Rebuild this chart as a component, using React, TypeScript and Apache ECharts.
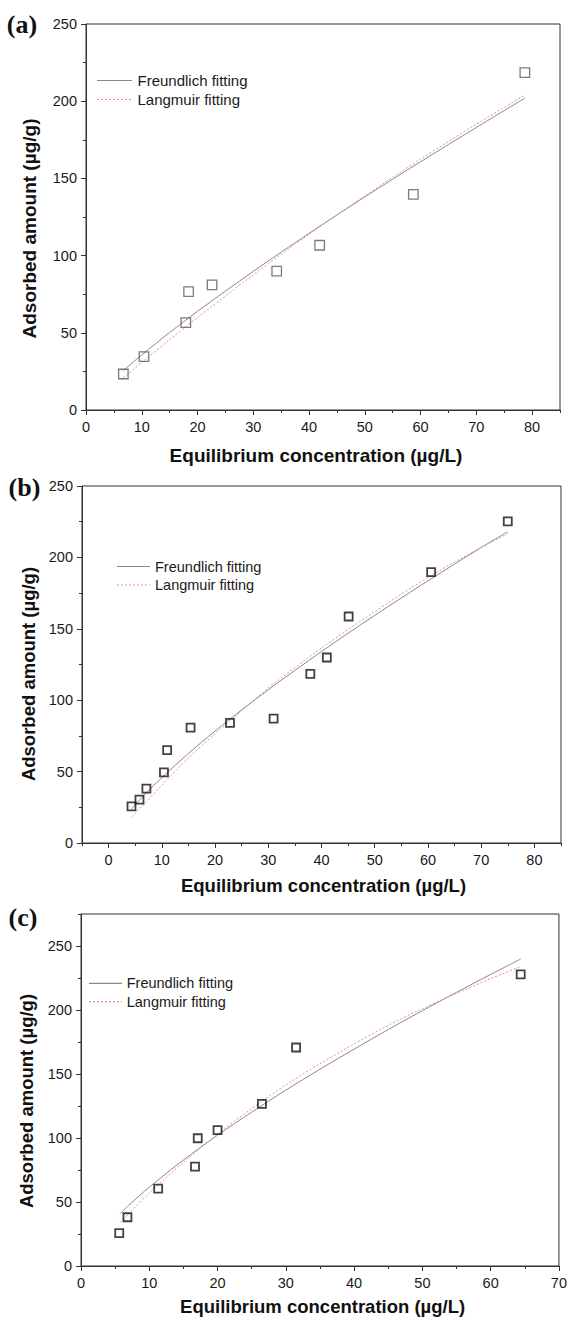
import React, { useEffect, useRef } from "react";
import * as echarts from "echarts";

// ---------- data ----------
// Panel (a)
const expA: number[][] = [
  [6.7, 23.3], [10.4, 34.6], [17.9, 56.6], [18.4, 76.7], [22.6, 81.0],
  [34.2, 89.9], [41.9, 106.7], [58.7, 139.6], [78.7, 218.5],
];
const freundA: number[][] = [
  [6.7, 25.5], [10, 35.7], [15, 50.2], [20, 63.9], [30, 89.8], [40, 114.4],
  [50, 138.0], [60, 160.8], [70, 183.0], [78.7, 202.0],
];
const langA: number[][] = [
  [6.7, 20.8], [10, 30.8], [15, 45.5], [20, 59.9], [30, 87.5], [40, 113.8],
  [50, 138.7], [60, 162.5], [70, 185.1], [78.7, 204.0],
];
// Panel (b)
const expB: number[][] = [
  [4.3, 25.7], [5.8, 30.4], [7.1, 38.1], [10.4, 49.5], [11.0, 65.0],
  [15.4, 80.8], [22.8, 84.1], [31.0, 87.1], [37.9, 118.5], [41.0, 129.9],
  [45.1, 158.6], [60.6, 189.7], [75.0, 225.2],
];
const freundB: number[][] = [
  [4.3, 23.8], [7, 34.8], [10, 45.8], [15, 62.7], [20, 78.4], [25, 93.2],
  [30, 107.3], [40, 134.1], [50, 159.4], [60, 183.6], [70, 206.9], [75, 218.0],
];
const langB: number[][] = [
  [4.3, 18.3], [7, 28.5], [10, 40.5], [15, 59.5], [20, 76.5], [25, 92.5],
  [30, 108.5], [40, 136.5], [50, 162.0], [60, 186.0], [70, 207.0], [75, 216.5],
];
// Panel (c)
const expC: number[][] = [
  [5.6, 25.7], [6.8, 38.1], [11.3, 60.4], [16.7, 77.7], [17.1, 99.8],
  [20.0, 106.1], [26.5, 126.6], [31.5, 170.7], [64.4, 227.9],
];
const freundC: number[][] = [
  [5.7, 40.7], [7, 47.5], [10, 61.6], [15, 82.8], [20, 102.2], [25, 120.2],
  [30, 137.4], [35, 153.7], [40, 169.4], [45, 184.7], [50, 199.5], [55, 213.8],
  [60, 227.8], [64.4, 239.8],
];
const langC: number[][] = [
  [5.7, 34.0], [7, 41.0], [10, 57.0], [15, 81.0], [20, 103.0], [25, 123.0],
  [30, 141.5], [35, 158.0], [40, 173.5], [45, 188.0], [50, 201.0], [55, 213.0],
  [60, 224.5], [64.4, 234.0],
];

// tick labels
const xTicksAB = [0, 10, 20, 30, 40, 50, 60, 70, 80];
const xTicksC = [0, 10, 20, 30, 40, 50, 60, 70];
const yTicks = [0, 50, 100, 150, 200, 250];

const panelLabels = ["(a)", "(b)", "(c)"];
const xTitle = "Equilibrium concentration (\u00b5g/L)";
const yTitle = "Adsorbed amount (\u00b5g/g)";
const legendNames = ["Freundlich fitting", "Langmuir fitting"];

// ---------- layout ----------
const panels = [
  {
    grid: { left: 86, top: 24, width: 474, height: 386 },
    xMin: 0, xMax: 85, yMax: 250, xTicks: xTicksAB,
    exp: expA, fr: freundA, la: langA,
    markColor: "#5a5a5a", markWidth: 1.3, markSize: 9.5,
    label: { x: 22, y: 24 },
    xTitle: { x: 316, y: 455, size: 19 },
    yTitle: { x: 29.5, y: 228.5, size: 19 },
    legend: { x1: 97, x2: 132, tx: 137.5, y1: 80.5, y2: 99.5, size: 15 },
    tickSize: 14.5,
  },
  {
    grid: { left: 82, top: 486, width: 479, height: 357 },
    xMin: -5, xMax: 85, yMax: 250, xTicks: xTicksAB,
    exp: expB, fr: freundB, la: langB,
    markColor: "#111", markWidth: 1.8, markSize: 8,
    label: { x: 24.5, y: 487 },
    xTitle: { x: 323.5, y: 885, size: 18.5 },
    yTitle: { x: 28, y: 674, size: 18.5 },
    legend: { x1: 117, x2: 150, tx: 155, y1: 566.5, y2: 585, size: 14.5 },
    tickSize: 14.5,
  },
  {
    grid: { left: 81, top: 914, width: 484, height: 352 },
    xMin: 0, xMax: 70, yMax: 275, xTicks: xTicksC,
    exp: expC, fr: freundC, la: langC,
    markColor: "#111", markWidth: 1.8, markSize: 8,
    label: { x: 23, y: 917 },
    xTitle: { x: 322.6, y: 1306, size: 18.5 },
    yTitle: { x: 26.5, y: 1101, size: 18.5 },
    legend: { x1: 89, x2: 122, tx: 126.7, y1: 983.3, y2: 1001.7, size: 14.5 },
    tickSize: 14.5,
  },
];

const AXIS = "#333";
const FR_COLOR = "#8a8a8a";
const LA_COLOR = "#ee8a94";
const SANS = "'Liberation Sans', Arial, sans-serif";
const SERIF = "'Liberation Serif', 'Times New Roman', serif";

function buildOption() {
  const grid: any[] = [];
  const xAxis: any[] = [];
  const yAxis: any[] = [];
  const series: any[] = [];
  const graphic: any[] = [];

  panels.forEach((p, i) => {
    grid.push({
      ...p.grid,
      show: true,
      borderColor: AXIS,
      borderWidth: 1,
      backgroundColor: "transparent",
      containLabel: false,
    });
    const lineStyle = { color: AXIS, width: 1 };
    // main x axis
    xAxis.push({
      type: "value",
      gridIndex: i,
      min: p.xMin,
      max: p.xMax,
      position: "bottom",
      axisLine: { show: true, onZero: false, lineStyle },
      axisTick: { show: true, inside: false, length: 5, customValues: p.xTicks, lineStyle },
      axisLabel: {
        customValues: p.xTicks,
        margin: 9,
        fontSize: p.tickSize,
        fontFamily: SANS,
        color: "#1a1a1a",
      },
      splitLine: { show: false },
    });
    // minor x ticks
    xAxis.push({
      type: "value",
      gridIndex: i,
      min: p.xMin,
      max: p.xMax,
      interval: 5,
      position: "bottom",
      axisLine: { show: false, onZero: false },
      axisTick: { show: true, inside: false, length: 3, lineStyle },
      axisLabel: { show: false },
      splitLine: { show: false },
    });
    // main y axis
    yAxis.push({
      type: "value",
      gridIndex: i,
      min: 0,
      max: p.yMax,
      position: "left",
      axisLine: { show: true, onZero: false, lineStyle },
      axisTick: { show: true, inside: false, length: 5, customValues: yTicks, lineStyle },
      axisLabel: {
        customValues: yTicks,
        margin: 9,
        fontSize: p.tickSize,
        fontFamily: SANS,
        color: "#1a1a1a",
      },
      splitLine: { show: false },
    });
    // minor y ticks
    yAxis.push({
      type: "value",
      gridIndex: i,
      min: 0,
      max: p.yMax,
      interval: 25,
      position: "left",
      axisLine: { show: false, onZero: false },
      axisTick: { show: true, inside: false, length: 3, lineStyle },
      axisLabel: { show: false },
      splitLine: { show: false },
    });

    const xi = i * 2;
    series.push({
      type: "line",
      name: legendNames[0],
      xAxisIndex: xi,
      yAxisIndex: xi,
      data: p.fr,
      showSymbol: false,
      symbol: "none",
      smooth: 0.3,
      lineStyle: { color: FR_COLOR, width: 1 },
      z: 2,
    });
    series.push({
      type: "line",
      name: legendNames[1],
      xAxisIndex: xi,
      yAxisIndex: xi,
      data: p.la,
      showSymbol: false,
      symbol: "none",
      smooth: 0.3,
      lineStyle: { color: LA_COLOR, width: 1, type: [2, 2] },
      z: 2,
    });
    series.push({
      type: "scatter",
      name: "data",
      xAxisIndex: xi,
      yAxisIndex: xi,
      data: p.exp,
      symbol: "rect",
      symbolSize: p.markSize,
      itemStyle: {
        color: "rgba(0,0,0,0)",
        borderColor: p.markColor,
        borderWidth: p.markWidth,
      },
      z: 3,
    });

    // panel label
    graphic.push({
      type: "text",
      x: p.label.x,
      y: p.label.y,
      style: {
        text: panelLabels[i],
        font: `bold 26px ${SERIF}`,
        fill: "#111",
        textAlign: "center",
        textVerticalAlign: "middle",
        verticalAlign: "middle",
      },
    });
    // x title
    graphic.push({
      type: "text",
      x: p.xTitle.x,
      y: p.xTitle.y,
      style: {
        text: xTitle,
        font: `bold ${p.xTitle.size}px ${SANS}`,
        fill: "#111",
        textAlign: "center",
        textVerticalAlign: "middle",
        verticalAlign: "middle",
      },
    });
    // y title
    graphic.push({
      type: "text",
      x: p.yTitle.x,
      y: p.yTitle.y,
      rotation: Math.PI / 2,
      style: {
        text: yTitle,
        font: `bold ${p.yTitle.size}px ${SANS}`,
        fill: "#111",
        textAlign: "center",
        textVerticalAlign: "middle",
        verticalAlign: "middle",
      },
    });
    // legend
    const lg = p.legend;
    graphic.push({
      type: "line",
      shape: { x1: lg.x1, y1: lg.y1, x2: lg.x2, y2: lg.y1 },
      style: { stroke: FR_COLOR, lineWidth: 1.2 },
    });
    graphic.push({
      type: "line",
      shape: { x1: lg.x1, y1: lg.y2, x2: lg.x2, y2: lg.y2 },
      style: { stroke: LA_COLOR, lineWidth: 1.2, lineDash: [2, 2] },
    });
    graphic.push({
      type: "text",
      x: lg.tx,
      y: lg.y1,
      style: {
        text: legendNames[0],
        font: `${lg.size}px ${SANS}`,
        fill: "#1a1a1a",
        textAlign: "left",
        textVerticalAlign: "middle",
        verticalAlign: "middle",
      },
    });
    graphic.push({
      type: "text",
      x: lg.tx,
      y: lg.y2,
      style: {
        text: legendNames[1],
        font: `${lg.size}px ${SANS}`,
        fill: "#1a1a1a",
        textAlign: "left",
        textVerticalAlign: "middle",
        verticalAlign: "middle",
      },
    });
  });

  return {
    animation: false,
    backgroundColor: "#ffffff",
    grid,
    xAxis,
    yAxis,
    series,
    graphic,
  };
}

export default function App() {
  const ref = useRef<HTMLDivElement>(null);
  useEffect(() => {
    document.body.style.margin = "0";
    if (!ref.current) return;
    const chart = echarts.init(ref.current, undefined, { renderer: "svg" });
    chart.setOption(buildOption() as any);
    return () => chart.dispose();
  }, []);
  return <div ref={ref} style={{ width: 570, height: 1318, background: "#fff" }} />;
}
